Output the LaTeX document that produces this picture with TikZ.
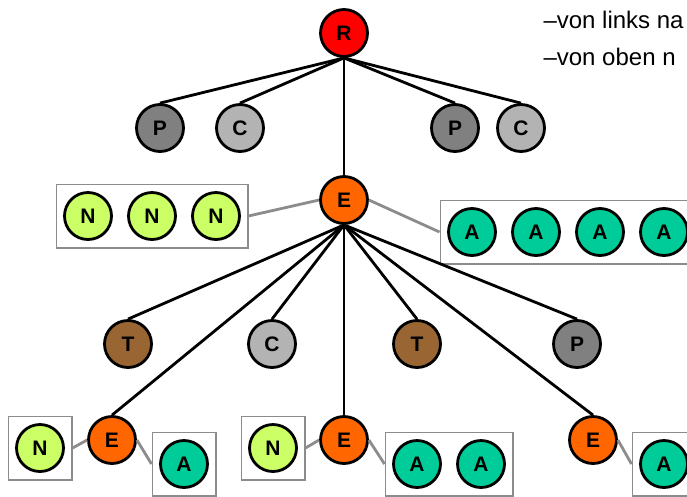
\documentclass[tikz,border=0pt]{standalone}
\usepackage{fontspec}
\setmainfont{Liberation Sans}
\usepackage{xcolor}
\usepackage{tikz}
\usetikzlibrary{fit}

\definecolor{rootred}{HTML}{FF0000}
\definecolor{pgray}{HTML}{808080}
\definecolor{cgray}{HTML}{B3B3B3}
\definecolor{eorange}{HTML}{FF6600}
\definecolor{ngreen}{HTML}{CCFF66}
\definecolor{ateal}{HTML}{00CC99}
\definecolor{tbrown}{HTML}{996633}
\definecolor{linegray}{HTML}{8C8C8C}

\begin{document}
\begin{tikzpicture}[x=1pt,y=-1pt,
	knot/.style={circle,draw=black,line width=2.8pt,fill=#1,minimum size=47pt,inner sep=0pt,font=\fontsize{21}{21}\selectfont\bfseries},
	group/.style={draw=linegray,line width=1.2pt,inner sep=7pt},
	edge/.style={line width=2.8pt},
	link/.style={linegray,line width=2.8pt}]
	\useasboundingbox (0,0) rectangle (687,496);
	\clip (0,0) rectangle (687,496);
	
	\node[knot=rootred] (r) at (344,33) {R};
	\node[knot=pgray] (p1) at (160,128) {P};
	\node[knot=cgray] (c1) at (240,128) {C};
	\node[knot=pgray] (p2) at (455,128) {P};
	\node[knot=cgray] (c2) at (521,128) {C};
	
	\node[knot=eorange] (e) at (344,200) {E};
	\node[knot=ngreen] (n1) at (88,216) {N};
	\node[knot=ngreen] (n2) at (152,216) {N};
	\node[knot=ngreen] (n3) at (216,216) {N};
	\node[group,fit=(n1)(n3)] (nbox) {};
	\node[knot=ateal] (a1) at (472,232) {A};
	\node[knot=ateal] (a2) at (536,232) {A};
	\node[knot=ateal] (a3) at (600,232) {A};
	\node[knot=ateal] (a4) at (664,232) {A};
	\node[group,fit=(a1)(a4)] (abox) {};
	
	\node[knot=tbrown] (t1) at (128,344) {T};
	\node[knot=cgray] (c3) at (272,344) {C};
	\node[knot=tbrown] (t2) at (417,344) {T};
	\node[knot=pgray] (p3) at (577,344) {P};
	
	\node[knot=eorange] (e1) at (112,440) {E};
	\node[knot=ngreen] (n4) at (40,448) {N};
	\node[group,fit=(n4)] (nbox1) {};
	\node[knot=ateal] (a5) at (184,464) {A};
	\node[group,fit=(a5)] (abox1) {};
	
	\node[knot=eorange] (e2) at (344,440) {E};
	\node[knot=ngreen] (n5) at (273,448) {N};
	\node[group,fit=(n5)] (nbox2) {};
	\node[knot=ateal] (a6) at (417,464) {A};
	\node[knot=ateal] (a7) at (481,464) {A};
	\node[group,fit=(a6)(a7)] (abox2) {};
	
	\node[knot=eorange] (e3) at (593,440) {E};
	\node[knot=ateal] (a8) at (664,464) {A};
	\node[group,fit=(a8)] (abox3) {};
	
	\foreach \k in {p1,c1,p2,c2,e}
		\draw[edge] (r.south) -- (\k.north);
	\foreach \k in {t1,c3,t2,p3,e1,e2,e3}
		\draw[edge] (e.south) -- (\k.north);
	
	\draw[link] (nbox.east) -- (e.west);
	\draw[link] (e.east) -- (abox.west);
	\draw[link] (nbox1.east) -- (e1.west);
	\draw[link] (e1.east) -- (abox1.west);
	\draw[link] (nbox2.east) -- (e2.west);
	\draw[link] (e2.east) -- (abox2.west);
	\draw[link] (e3.east) -- (abox3.west);
	
	\node[anchor=base west,font=\fontsize{24}{24}\selectfont] (rule1) at (540,28) {–von links na};
	\node[anchor=base west,font=\fontsize{24}{24}\selectfont] (rule2) at (540,65) {–von oben n};
\end{tikzpicture}
\end{document}
